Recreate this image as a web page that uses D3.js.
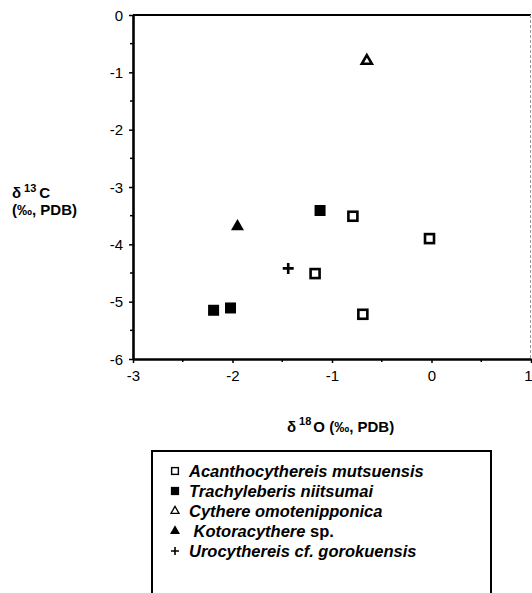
<!DOCTYPE html>
<html>
<head>
<meta charset="utf-8">
<script src="https://cdn.jsdelivr.net/npm/d3@7"></script>
<style>
  body { margin: 0; background: #fff; }
  svg { display: block; font-family: "Liberation Sans", Arial, sans-serif; }
</style>
</head>
<body>
<svg id="chart"></svg>
<script>
const width = 532;
const height = 593;

// values (delta18O, delta13C)
const acanthoX = [-0.79, -0.02, -1.17, -0.69];
const acanthoY = [-3.51, -3.90, -4.51, -5.22];
const trachyX = [-1.12, -2.19, -2.02];
const trachyY = [-3.41, -5.15, -5.11];
const cythereX = [-0.65];
const cythereY = [-0.80];
const kotoX = [-1.95];
const kotoY = [-3.69];
const uroX = [-1.44];
const uroY = [-4.42];

const xTicks = [-3, -2, -1, 0, 1];
const yTicks = [0, -1, -2, -3, -4, -5, -6];
const xMinor = [-2.5, -1.5, -0.5, 0.5];
const yMinor = [-0.5, -1.5, -2.5, -3.5, -4.5, -5.5];

const species = [
  {name: 'Acanthocythereis mutsuensis', extra: '', type: 'openSquare'},
  {name: 'Trachyleberis niitsumai', extra: '', type: 'square'},
  {name: 'Cythere omotenipponica', extra: '', type: 'openTriangle'},
  {name: ' Kotoracythere', extra: ' sp.', type: 'triangle'},
  {name: 'Urocythereis cf. gorokuensis', extra: '', type: 'plus'}
];

const svg = d3.select('#chart')
  .attr('width', width)
  .attr('height', height);

const x = d3.scaleLinear().domain([-3, 1]).range([133, 531]);
const y = d3.scaleLinear().domain([-6, 0]).range([359, 15]);

// frame: top and right
svg.append('line')
  .attr('x1', x(-3)).attr('x2', x(1))
  .attr('y1', y(0)).attr('y2', y(0))
  .attr('stroke', '#000').attr('stroke-width', 2);
svg.append('line')
  .attr('x1', x(1) - 0.5).attr('x2', x(1) - 0.5)
  .attr('y1', y(0)).attr('y2', y(-6))
  .attr('stroke', '#999').attr('stroke-width', 1)
  .attr('stroke-dasharray', '3,2');

// axes (hyphen minus like the original)
const fmt = d => String(d);
const xAxis = svg.append('g')
  .attr('transform', `translate(0, ${y(-6)})`)
  .call(d3.axisBottom(x).tickValues(xTicks).tickFormat(fmt)
    .tickSize(4).tickSizeOuter(0).tickPadding(7));
const yAxis = svg.append('g')
  .attr('transform', `translate(${x(-3)}, 0)`)
  .call(d3.axisLeft(y).tickValues(yTicks).tickFormat(fmt)
    .tickSize(4).tickSizeOuter(0).tickPadding(6));

[xAxis, yAxis].forEach(a => {
  a.select('.domain').attr('stroke-width', 2.6);
  a.selectAll('.tick line').attr('stroke-width', 1.5);
  a.selectAll('.tick text')
    .attr('font-size', 15)
    .attr('font-family', '"Liberation Sans", Arial, sans-serif')
    .attr('fill', '#000');
});
yAxis.selectAll('.tick text').attr('dy', '0.34em');
// last x label sits at the page edge: keep it inside
xAxis.selectAll('.tick text').filter(d => d === 1)
  .attr('text-anchor', 'end').attr('dx', 1);

// minor ticks
svg.append('g').selectAll('line').data(xMinor).enter().append('line')
  .attr('x1', d => x(d)).attr('x2', d => x(d))
  .attr('y1', y(-6)).attr('y2', y(-6) + 3)
  .attr('stroke', '#000').attr('stroke-width', 1.5);
svg.append('g').selectAll('line').data(yMinor).enter().append('line')
  .attr('x1', x(-3) - 3).attr('x2', x(-3))
  .attr('y1', d => y(d)).attr('y2', d => y(d))
  .attr('stroke', '#000').attr('stroke-width', 1.5);

// axis titles
const yTitle = svg.append('text')
  .attr('x', 12).attr('y', 198)
  .attr('font-size', 15).attr('font-weight', 'bold');
yTitle.append('tspan').text('δ');
yTitle.append('tspan').attr('font-size', 11).attr('dx', 3).attr('dy', -6).text('13');
yTitle.append('tspan').attr('dx', 3).attr('dy', 6).text('C');
svg.append('text')
  .attr('x', 12).attr('y', 215)
  .attr('font-size', 15).attr('font-weight', 'bold')
  .text('(‰, PDB)');

const xTitle = svg.append('text')
  .attr('x', 287).attr('y', 432)
  .attr('font-size', 15).attr('font-weight', 'bold');
xTitle.append('tspan').text('δ');
xTitle.append('tspan').attr('font-size', 11).attr('dx', 3).attr('dy', -7).text('18');
xTitle.append('tspan').attr('dx', 2).attr('dy', 7).text('O (‰, PDB)');

// marker drawing
function drawMarker(g, type, cx, cy, big) {
  const s = big ? 1 : 0.75;
  if (type === 'openSquare') {
    const w = 9 * s;
    g.append('rect').attr('x', cx - w / 2).attr('y', cy - w / 2)
      .attr('width', w).attr('height', w)
      .attr('fill', '#fff').attr('stroke', '#000')
      .attr('stroke-width', big ? 2.6 : 1.4);
  } else if (type === 'square') {
    const w = 11 * s;
    g.append('rect').attr('x', cx - w / 2).attr('y', cy - w / 2)
      .attr('width', w).attr('height', w).attr('fill', '#000');
  } else if (type === 'openTriangle') {
    const side = big ? 10 : 8;
    g.append('path')
      .attr('d', d3.symbol().type(d3.symbolTriangle).size(Math.sqrt(3) / 4 * side * side)())
      .attr('transform', `translate(${cx},${cy})`)
      .attr('fill', '#fff').attr('stroke', '#000')
      .attr('stroke-width', big ? 2.6 : 1.3).attr('stroke-linejoin', 'miter');
  } else if (type === 'triangle') {
    const side = big ? 13 : 10;
    g.append('path')
      .attr('d', d3.symbol().type(d3.symbolTriangle).size(Math.sqrt(3) / 4 * side * side)())
      .attr('transform', `translate(${cx},${cy})`)
      .attr('fill', '#000');
  } else if (type === 'plus') {
    const r = big ? 5.5 : 4;
    g.append('path')
      .attr('d', `M${-r},0H${r}M0,${-r}V${r}`)
      .attr('transform', `translate(${cx},${cy})`)
      .attr('stroke', '#000').attr('stroke-width', big ? 2.6 : 1.6);
  }
}

const points = svg.append('g');
function plotSeries(xs, ys, type) {
  xs.forEach((v, i) => drawMarker(points, type, x(v), y(ys[i]), true));
}
plotSeries(acanthoX, acanthoY, 'openSquare');
plotSeries(trachyX, trachyY, 'square');
plotSeries(cythereX, cythereY, 'openTriangle');
plotSeries(kotoX, kotoY, 'triangle');
plotSeries(uroX, uroY, 'plus');

// legend
const legend = svg.append('g');
legend.append('rect')
  .attr('x', 152).attr('y', 451)
  .attr('width', 339).attr('height', 170)
  .attr('fill', 'none').attr('stroke', '#000').attr('stroke-width', 2);

const rowY = d3.scalePoint().domain(species.map(d => d.name)).range([471, 551]);
species.forEach(sp => {
  const cy = rowY(sp.name);
  drawMarker(legend, sp.type, 175, cy, false);
  const t = legend.append('text')
    .attr('x', 189).attr('y', cy + 5.5)
    .attr('font-size', 16.5).attr('font-weight', 'bold')
    .attr('font-style', 'italic')
    .attr('xml:space', 'preserve');
  t.append('tspan').text(sp.name);
  if (sp.extra) t.append('tspan').attr('font-style', 'normal').text(sp.extra);
});
</script>
</body>
</html>
